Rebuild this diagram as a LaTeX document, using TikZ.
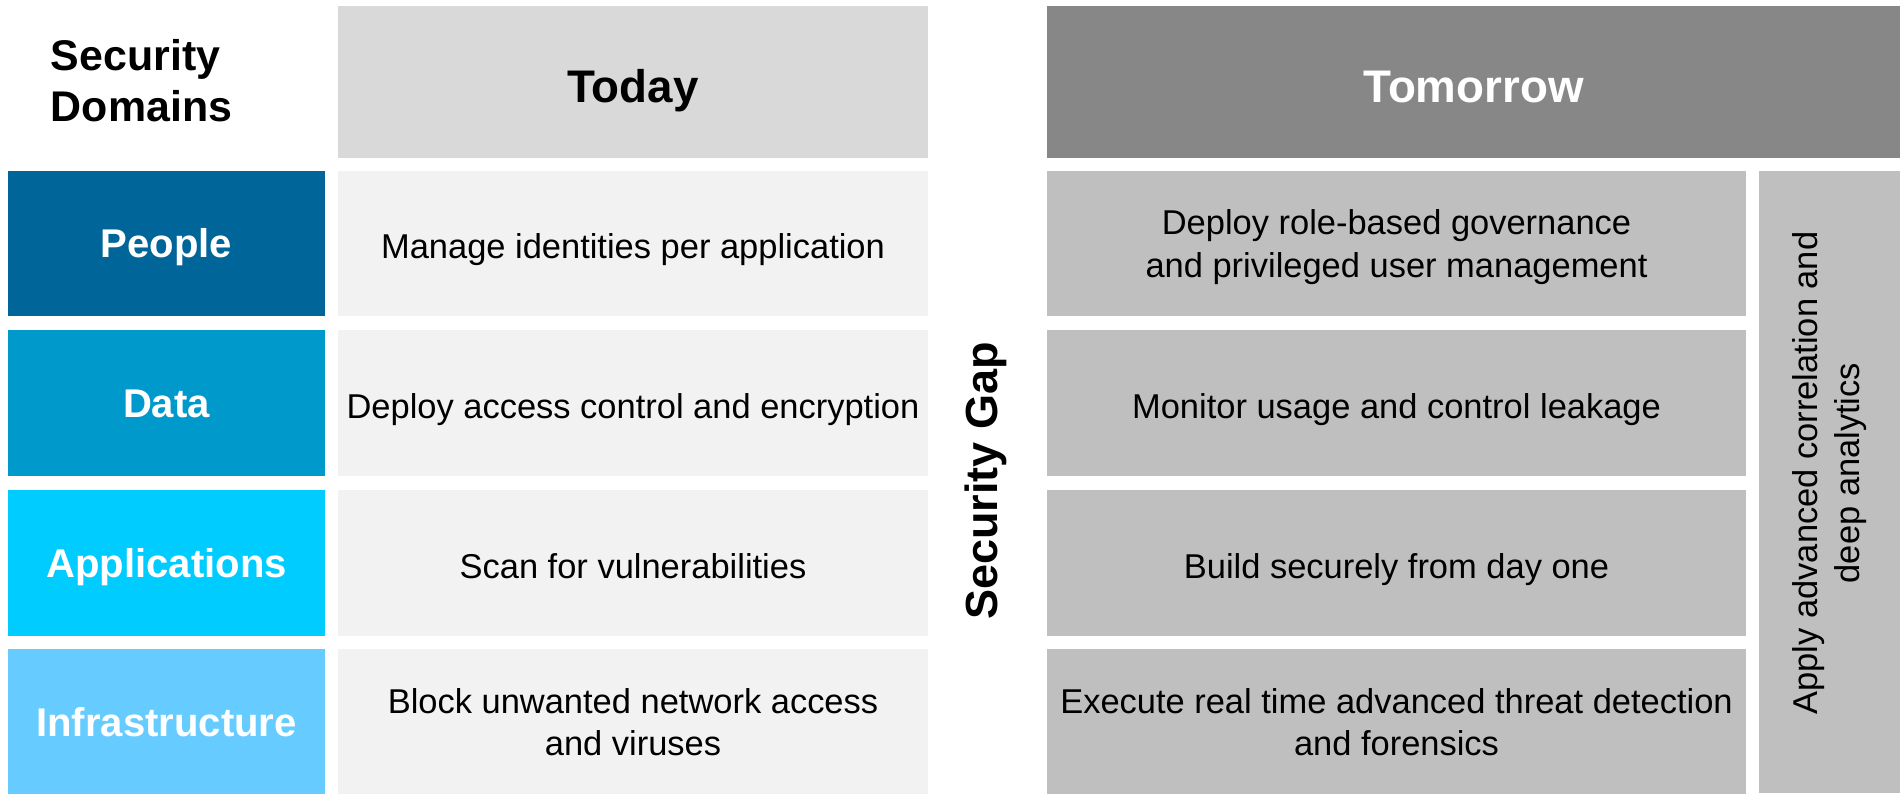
\documentclass[tikz,border=0pt]{standalone}
\usepackage{fontspec}
\setmainfont{Liberation Sans}
\definecolor{peopleblue}{HTML}{006699}
\definecolor{datablue}{HTML}{0099CC}
\definecolor{appblue}{HTML}{00CCFF}
\definecolor{infrablue}{HTML}{66CCFF}
\definecolor{todayhead}{HTML}{D9D9D9}
\definecolor{todaycell}{HTML}{F2F2F2}
\definecolor{tomorrowhead}{HTML}{878787}
\definecolor{tomorrowcell}{HTML}{BFBFBF}
\tikzset{inner sep=0pt,outer sep=0pt}

\begin{document}
\begin{tikzpicture}[
            x=0.01cm, y=-0.01cm,
            cell/.style={minimum height=1.45cm,align=center,text depth=0pt,font=\fontsize{9.8}{12}\selectfont},
            oneline/.style={text height=8.7pt},
            twoline/.style={text depth=-2.8pt},
            domainbox/.style={cell,minimum width=3.17cm,text=white,text height=8.2pt,font=\fontsize{11.4}{13.7}\selectfont\bfseries},
            todaybox/.style={cell,minimum width=5.90cm,fill=todaycell},
            tomorrowbox/.style={cell,minimum width=6.99cm,fill=tomorrowcell},
            headbox/.style={minimum height=1.52cm,text height=11.9pt,text depth=0pt,font=\fontsize{13}{15.6}\selectfont\bfseries}
            ]
            \useasboundingbox (0,0) rectangle (1900,793);
            % column headers
            \node[align=left,anchor=west,text depth=0pt,font=\fontsize{12.2}{14.5}\selectfont\bfseries] (domains) at (51,80) {Security\\Domains};
            \node[headbox,minimum width=5.90cm,fill=todayhead] (today) at (633,82) {Today};
            \node[headbox,minimum width=8.53cm,fill=tomorrowhead,text=white] (tomorrow) at (1473.5,82) {Tomorrow};
            % security domains
            \node[domainbox,fill=peopleblue] (people) at (166.5,243.5) {People};
            \node[domainbox,fill=datablue] (data) at (166.5,403) {Data};
            \node[domainbox,fill=appblue] (apps) at (166.5,563) {Applications};
            \node[domainbox,fill=infrablue] (infra) at (166.5,722) {Infrastructure};
            % today
            \node[todaybox,oneline] (today-people) at (633,243.5) {Manage identities per application};
            \node[todaybox,oneline] (today-data) at (633,403) {Deploy access control and encryption};
            \node[todaybox,oneline] (today-apps) at (633,563) {Scan for vulnerabilities};
            \node[todaybox,twoline] (today-infra) at (633,722) {Block unwanted network access\\and viruses};
            % gap
            \node[rotate=90,font=\fontsize{12.8}{15}\selectfont\bfseries] (gap) at (986,481) {Security Gap};
            % tomorrow
            \node[tomorrowbox,twoline] (tomorrow-people) at (1396.5,243.5) {Deploy role-based governance\\and privileged user management};
            \node[tomorrowbox,oneline] (tomorrow-data) at (1396.5,403) {Monitor usage and control leakage};
            \node[tomorrowbox,oneline] (tomorrow-apps) at (1396.5,563) {Build securely from day one};
            \node[tomorrowbox,twoline] (tomorrow-infra) at (1396.5,722) {Execute real time advanced threat detection\\and forensics};
            \node[minimum width=1.41cm,minimum height=6.22cm,fill=tomorrowcell] (analytics) at (1829.5,482) {};
            \node[rotate=90,align=center,font=\fontsize{9.8}{12}\selectfont] (analytics-text) at (1829.5,473) {Apply advanced correlation and\\deep analytics};
\end{tikzpicture}
\end{document}
